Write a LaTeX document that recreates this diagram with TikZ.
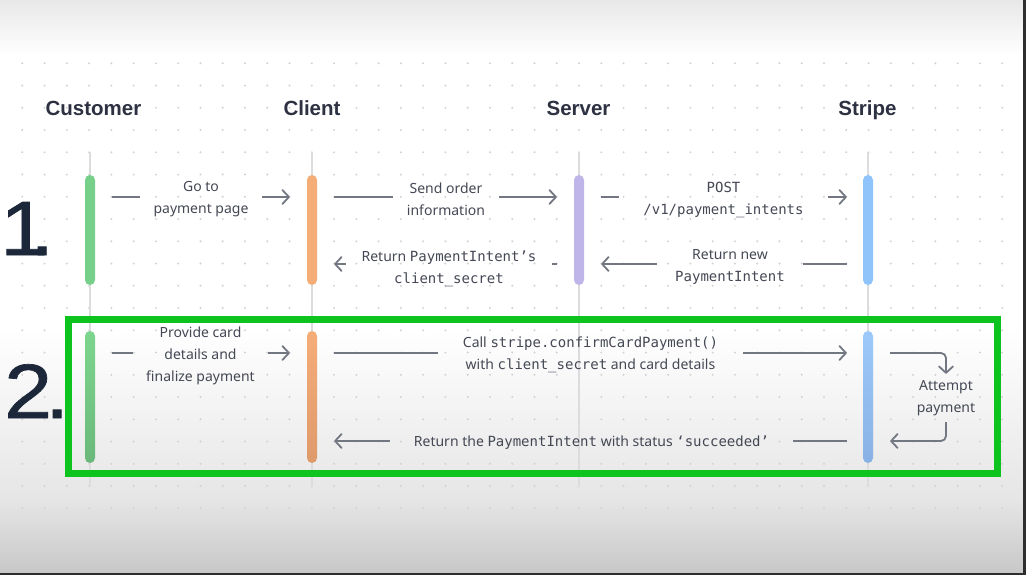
\documentclass[tikz,border=0pt]{standalone}
\usepackage{fontspec}
\setmainfont{Noto Sans}
\newfontfamily\monof{DejaVu Sans Mono}
\newfontfamily\numf{Liberation Sans}[FakeStretch=1.12,FakeBold=0.9]
\newfontfamily\hdrf{Liberation Sans}
\usetikzlibrary{arrows.meta,calc}
\definecolor{dotc}{HTML}{D2D2D2}
\definecolor{lifec}{HTML}{DCDCDE}
\definecolor{hdrc}{HTML}{2D3142}
\definecolor{numc}{HTML}{1C2739}
\definecolor{labc}{HTML}{444854}
\definecolor{arrc}{HTML}{727782}
\definecolor{cgreen}{HTML}{77D08A}
\definecolor{corange}{HTML}{F5AD78}
\definecolor{cpurple}{HTML}{C0B5E8}
\definecolor{cblue}{HTML}{8FC4FA}
\definecolor{gtop}{HTML}{7DD68D}
\definecolor{gbot}{HTML}{6AB87A}
\definecolor{otop}{HTML}{F5AD78}
\definecolor{obot}{HTML}{DF9A6C}
\definecolor{btop}{HTML}{9CC9F9}
\definecolor{bbot}{HTML}{89B1E5}
\definecolor{boxg}{HTML}{0DC41E}
\definecolor{edgec}{HTML}{2E2E2E}
\newcommand{\mtt}[1]{{\monof #1}}
\tikzset{
  hdr/.style={text=hdrc, font=\hdrf\fontsize{20.5}{22}\selectfont\bfseries, inner sep=0pt, anchor=base},
  num/.style={text=numc, font=\numf\fontsize{77}{80}\selectfont, inner sep=0pt, anchor=base west},
  lab/.style={text=labc, font=\fontsize{14}{22}\selectfont, align=center, inner xsep=0pt, inner ysep=2pt, yshift=-2pt},
  bar/.style={draw=none, rounded corners=5pt, minimum width=10pt, inner sep=0pt},
  barA/.style={bar, minimum height=110pt},
  barB/.style={bar, minimum height=132pt},
  life/.style={draw=lifec, line width=2.5pt},
  seg/.style={draw=arrc, line width=1.8pt},
  arr/.style={draw=arrc, line width=1.8pt, -{Straight Barb[length=6.5pt,width=14pt,line join=round,line cap=round]}},
  gbox/.style={draw=boxg, line width=7pt},
}
\begin{document}
\begin{tikzpicture}[x=1pt,y=-1pt]
\useasboundingbox (0,0) rectangle (1026,575);
% background
\fill[white] (0,0) rectangle (1026,575);
\shade[top color=black!9, bottom color=white] (0,0) rectangle (1026,55);
\shade[top color=white, bottom color=black!10] (0,330) rectangle (1026,500);
\shade[top color=black!10, bottom color=black!22] (0,500) rectangle (1026,575);
% dots
\foreach \i in {0,...,44} {
  \foreach \j in {0,...,20} {
    \fill[dotc] (22.3+\i*22.27, 63.3+\j*22.25) circle (1.1);
  }
}
% headers
\node[hdr] (hcu) at (93.5,116) {Customer};
\node[hdr] (hcl) at (312,116) {Client};
\node[hdr] (hse) at (578.5,116) {Server};
\node[hdr] (hst) at (867.5,116) {Stripe};
% lifelines
\foreach \x/\n in {90/a,312/b,579/c,868/d} {
  \coordinate (t\n) at (\x,152);
  \coordinate (b\n) at (\x,487);
  \draw[life] (t\n) -- (b\n);
}
% numbers
\node[num] (n1) at (0,255) {1\kern-18pt.};
\node[num] (n2) at (4,418) {2\kern-7pt.};
% green box
\draw[gbox] (68.5,319) rectangle (997,473.5);
% bars row 1
\node[barA, fill=cgreen] (cu1) at (90,230) {};
\node[barA, fill=corange] (cl1) at (312,230) {};
\node[barA, fill=cpurple] (se1) at (579,230) {};
\node[barA, fill=cblue] (st1) at (868,230) {};
% bars row 2
\node[barB, top color=gtop, bottom color=gbot] (cu2) at (90,397) {};
\node[barB, top color=otop, bottom color=obot] (cl2) at (312,397) {};
\node[barB, top color=btop, bottom color=bbot] (st2) at (868,397) {};
% row coordinates
\coordinate (y1) at (0,197);
\coordinate (y2) at (0,264);
\coordinate (y3) at (0,353);
\coordinate (y4) at (0,441);
% labels
\node[lab, minimum width=122pt] (l1) at (201,197.5) {Go to\\payment page};
\node[lab, minimum width=106pt] (l2) at (446,197.5) {Send order\\information};
\node[lab, minimum width=209pt] (l3) at (723.5,197.5) {\mtt{POST}\\\mtt{/v1/payment\_intents}};
\node[lab, minimum width=146pt] (l4) at (730,264.5) {Return new\\\mtt{PaymentIntent}};
\node[lab, minimum width=206pt] (l5) at (449,267) {Return \mtt{PaymentIntent’s}\\\mtt{client\_secret}};
\node[lab, minimum width=135pt] (l6) at (200.5,353.5) {Provide card\\details and\\finalize payment};
\node[lab, minimum width=305pt] (l7) at (590.5,353) {Call \mtt{stripe.confirmCardPayment()}\\with \mtt{client\_secret} and card details};
\node[lab, minimum width=403pt] (l8) at (591.5,441) {Return the \mtt{PaymentIntent} with status \mtt{‘succeeded’}};
\node[lab, minimum height=48pt] (att) at (946,396) {Attempt\\payment};
% arrows row 1
\draw[seg, shorten <=17pt] (cu1.east |- y1) -- (l1.west |- y1);
\draw[arr, shorten >=17pt] (l1.east |- y1) -- (cl1.west |- y1);
\draw[seg, shorten <=17pt] (cl1.east |- y1) -- (l2.west |- y1);
\draw[arr, shorten >=17pt] (l2.east |- y1) -- (se1.west |- y1);
\draw[seg, shorten <=17pt] (se1.east |- y1) -- (l3.west |- y1);
\draw[arr, shorten >=16pt] (l3.east |- y1) -- (st1.west |- y1);
\draw[seg, shorten <=16pt] (st1.west |- y2) -- (l4.east |- y2);
\draw[arr, shorten >=17pt] (l4.west |- y2) -- (se1.east |- y2);
\draw[seg, shorten <=17pt] (se1.west |- y2) -- (l5.east |- y2);
\draw[arr, shorten >=17pt] (l5.west |- y2) -- (cl1.east |- y2);
% arrows row 2
\draw[seg, shorten <=17pt] (cu2.east |- y3) -- (l6.west |- y3);
\draw[arr, shorten >=17pt] (l6.east |- y3) -- (cl2.west |- y3);
\draw[seg, shorten <=17pt] (cl2.east |- y3) -- (l7.west |- y3);
\draw[arr, shorten >=16pt] (l7.east |- y3) -- (st2.west |- y3);
\draw[arr, rounded corners=5pt, shorten <=17pt] (st2.east |- y3) -| (att.north);
\draw[arr, rounded corners=5pt, shorten >=17pt] (att.south) |- (st2.east |- y4);
\draw[seg, shorten <=16pt] (st2.west |- y4) -- (l8.east |- y4);
\draw[arr, shorten >=17pt] (l8.west |- y4) -- (cl2.east |- y4);
% window edge
\fill[edgec] (1023,0) rectangle (1026,575);
\fill[edgec] (0,572.5) rectangle (1026,575);
\end{tikzpicture}
\end{document}
